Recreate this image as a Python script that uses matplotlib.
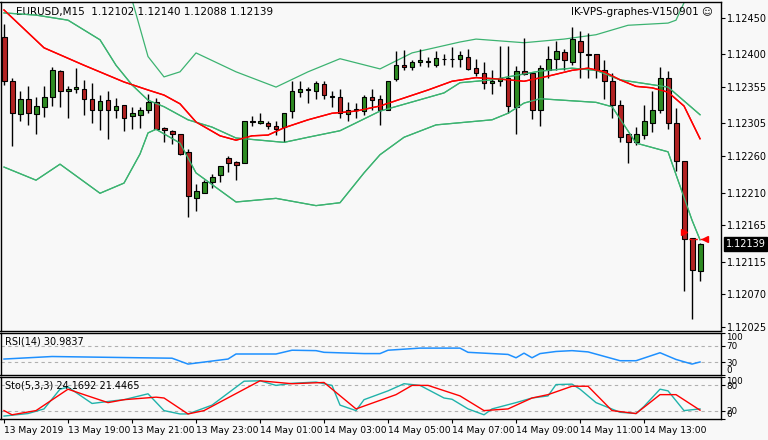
import numpy as np
import matplotlib
matplotlib.use("Agg")
import matplotlib.pyplot as plt

# ---- OHLC data (EURUSD M15, 88 candles from 13 May 17:00) ----
opens  = [1.12424,1.12363,1.12318,1.12338,1.12318,1.12327,1.12341,1.12377,1.12349,1.12352,
          1.12353,1.12338,1.12323,1.12337,1.12323,1.12330,1.12315,1.12316,1.12323,1.12334,
          1.12299,1.12294,1.12290,1.12266,1.12203,1.12210,1.12224,1.12234,1.12257,1.12252,
          1.12250,1.12309,1.12306,1.12305,1.12301,1.12300,1.12322,1.12348,1.12351,1.12349,
          1.12359,1.12342,1.12342,1.12318,1.12323,1.12322,1.12342,1.12338,1.12323,1.12366,
          1.12386,1.12382,1.12389,1.12389,1.12386,1.12393,1.12393,1.12393,1.12397,1.12381,
          1.12375,1.12360,1.12363,1.12367,1.12327,1.12377,1.12374,1.12323,1.12378,1.12393,
          1.12403,1.12390,1.12418,1.12401,1.12400,1.12378,1.12363,1.12330,1.12290,1.12279,
          1.12289,1.12305,1.12323,1.12368,1.12305,1.12254,1.12148,1.12102]
highs  = [1.12442,1.12368,1.12350,1.12356,1.12341,1.12356,1.12382,1.12379,1.12356,1.12381,
          1.12365,1.12361,1.12344,1.12350,1.12340,1.12330,1.12327,1.12327,1.12346,1.12340,
          1.12300,1.12296,1.12290,1.12270,1.12222,1.12227,1.12235,1.12246,1.12260,1.12254,
          1.12309,1.12315,1.12319,1.12309,1.12309,1.12319,1.12363,1.12364,1.12355,1.12363,
          1.12363,1.12349,1.12353,1.12334,1.12333,1.12344,1.12353,1.12344,1.12364,1.12404,
          1.12406,1.12392,1.12407,1.12396,1.12404,1.12400,1.12410,1.12404,1.12408,1.12393,
          1.12389,1.12378,1.12411,1.12412,1.12384,1.12422,1.12374,1.12385,1.12411,1.12419,
          1.12407,1.12437,1.12432,1.12430,1.12400,1.12392,1.12374,1.12337,1.12290,1.12300,
          1.12330,1.12349,1.12382,1.12377,1.12326,1.12254,1.12148,1.12140]
lows   = [1.12358,1.12274,1.12309,1.12303,1.12290,1.12314,1.12329,1.12327,1.12312,1.12347,
          1.12316,1.12305,1.12296,1.12284,1.12312,1.12294,1.12298,1.12299,1.12319,1.12298,
          1.12279,1.12277,1.12261,1.12177,1.12184,1.12210,1.12216,1.12224,1.12238,1.12227,
          1.12250,1.12301,1.12304,1.12298,1.12289,1.12280,1.12313,1.12342,1.12333,1.12338,
          1.12338,1.12327,1.12312,1.12309,1.12312,1.12316,1.12324,1.12303,1.12323,1.12364,
          1.12378,1.12378,1.12384,1.12382,1.12382,1.12385,1.12382,1.12382,1.12378,1.12370,
          1.12352,1.12345,1.12356,1.12319,1.12290,1.12371,1.12311,1.12302,1.12367,1.12378,
          1.12378,1.12386,1.12367,1.12367,1.12367,1.12338,1.12312,1.12279,1.12250,1.12275,
          1.12283,1.12293,1.12320,1.12298,1.12239,1.12075,1.12036,1.12088]
closes = [1.12364,1.12320,1.12338,1.12319,1.12329,1.12341,1.12378,1.12349,1.12352,1.12355,
          1.12338,1.12323,1.12336,1.12323,1.12329,1.12312,1.12319,1.12323,1.12334,1.12298,
          1.12296,1.12290,1.12263,1.12205,1.12212,1.12224,1.12232,1.12246,1.12250,1.12248,
          1.12308,1.12307,1.12308,1.12301,1.12298,1.12319,1.12349,1.12352,1.12352,1.12360,
          1.12344,1.12342,1.12319,1.12323,1.12323,1.12342,1.12337,1.12323,1.12364,1.12385,
          1.12382,1.12390,1.12392,1.12389,1.12395,1.12393,1.12393,1.12399,1.12380,1.12374,
          1.12360,1.12364,1.12367,1.12329,1.12377,1.12373,1.12324,1.12381,1.12393,1.12404,
          1.12392,1.12421,1.12403,1.12399,1.12378,1.12363,1.12331,1.12287,1.12280,1.12290,
          1.12308,1.12323,1.12368,1.12305,1.12254,1.12146,1.12103,1.12139]

# ---- indicator lines (candle index, value) ----
ma_idx = [0,5,10,15,18,20,22,24,27,29,31,33,35,38,41,44,47,50,53,56,59,62,65,68,71,73,75,77,79,81,83,85,87]
ma_val = [1.12461,1.12409,1.12385,1.12362,1.12351,1.12344,1.12332,1.12307,1.12288,1.12282,1.12288,
          1.12289,1.12299,1.12310,1.12319,1.12322,1.12329,1.12340,1.12351,1.12363,1.12368,1.12366,
          1.12363,1.12370,1.12378,1.12381,1.12376,1.12365,1.12356,1.12354,1.12348,1.12329,1.12284]
up_idx = [0,13,16,18,20,22,24,29,34,38,42,47,51,57,59,65,70,74,78,83,84,85,87]
up_val = [1.12600,1.12550,1.12475,1.12397,1.12369,1.12376,1.12402,1.12376,1.12355,1.12376,1.12394,
          1.12380,1.12402,1.12417,1.12421,1.12416,1.12421,1.12427,1.12440,1.12443,1.12447,1.12471,1.12520]
mid_idx = [0,4,8,12,14,16,18,20,23,26,29,32,35,38,42,47,55,57,61,67,71,74,77,83,87]
mid_val = [1.12457,1.12454,1.12447,1.12420,1.12385,1.12358,1.12337,1.12328,1.12310,1.12300,1.12285,
           1.12282,1.12279,1.12286,1.12295,1.12322,1.12347,1.12361,1.12365,1.12377,1.12381,1.12378,
           1.12365,1.12355,1.12317]
lo_idx = [0,4,7,12,15,17,18,19,22,24,29,34,39,42,45,47,50,54,61,63,65,67,74,76,79,83,86,87]
lo_val = [1.12245,1.12227,1.12249,1.12209,1.12223,1.12263,1.12292,1.12297,1.12278,1.12237,1.12197,
          1.12202,1.12192,1.12196,1.12237,1.12262,1.12286,1.12303,1.12310,1.12319,1.12333,1.12339,
          1.12334,1.12328,1.12278,1.12266,1.12172,1.12145]

rsi_idx = [0,6,17,21,23,28,29,34,36,39,40,45,47,48,52,57,58,63,64,65,66,67,69,71,73,77,79,82,84,86,87]
rsi_val = [38,44,41,40,26,38,50,50,59,58,54,51,51,59,64,64,54,49,41,52,41,51,56,58,55,34,34,53,37,26,31]

stk_idx = [0,3,5,7,8,9,11,14,15,18,20,22,23,26,30,32,34,36,39,41,42,44,45,48,50,52,55,56,58,60,61,
           64,66,68,69,71,72,74,77,79,80,82,83,85,87]
stk_val = [7,13,24,71,76,63,37,44,46,60,20,12,12,33,90,91,80,85,88,80,33,20,46,67,84,80,50,47,24,10,
           24,39,50,55,82,83,71,39,16,13,30,71,67,20,24]
sig_idx = [0,1,4,8,10,13,15,19,20,23,25,32,36,40,44,49,51,53,57,60,63,66,68,71,73,76,79,82,84,87]
sig_val = [20,10,20,71,58,39,46,52,50,12,20,91,84,87,24,58,80,80,55,20,24,50,58,78,78,20,13,58,58,21]

tick_labels = ["13 May 2019","13 May 19:00","13 May 21:00","13 May 23:00","14 May 01:00",
               "14 May 03:00","14 May 05:00","14 May 07:00","14 May 09:00","14 May 11:00","14 May 13:00"]
price_ticks = [1.12450,1.12400,1.12355,1.12305,1.12260,1.12210,1.12165,1.12115,1.12070,1.12025]

W, H = 768, 440
BG = "#f8f8f8"
GREEN = "#2e8b22"
RED = "#b22222"
BAND = "#3cb371"
plt.rcParams['font.family'] = ['DejaVu Sans']
fig = plt.figure(figsize=(W/100, H/100), dpi=100, facecolor=BG)

def mk(y0, y1):
    ax = fig.add_axes([0.5/W, (H-y1)/H, 720/W, (y1-y0)/H], facecolor=BG)
    for s in ax.spines.values():
        s.set_color("black"); s.set_linewidth(1)
    ax.set_xlim(-0.44, 89.56)
    ax.yaxis.tick_right()
    ax.tick_params(axis='y', labelsize=7, length=3, pad=2, colors='black')
    ax.tick_params(axis='x', bottom=False, labelbottom=False)
    return ax

ax = mk(2, 331)
ax.set_ylim(1.120196, 1.12472)
n = len(opens)
x = np.arange(n)
o = np.array(opens); c = np.array(closes); h = np.array(highs); l = np.array(lows)
ax.plot(ma_idx, ma_val, color="red", lw=1, zorder=1)
ax.plot(up_idx, up_val, color=BAND, lw=0.9, zorder=1)
ax.plot(mid_idx, mid_val, color=BAND, lw=0.9, zorder=1)
ax.plot(lo_idx, lo_val, color=BAND, lw=0.9, zorder=1)
ax.vlines(x, l, h, color="black", lw=1, zorder=2)
up = c >= o
cols = np.where(up, GREEN, RED)
bot = np.minimum(o, c); hgt = np.maximum(np.abs(c - o), 0.000012)
ax.bar(x, hgt, 0.62, bot, color=cols, edgecolor="black", linewidth=0.8, zorder=3)
ax.plot(lo_idx, lo_val, color=BAND, lw=0.9, zorder=4)
ax.plot(mid_idx, mid_val, color=BAND, lw=0.9, zorder=4)
ax.plot(ma_idx, ma_val, color="red", lw=1, zorder=4)
ax.set_yticks(price_ticks)
ax.set_yticklabels([f"{p:.5f}" for p in price_ticks])
# trade arrows
ax.plot([85], [1.12156], marker=">", color="red", ms=5, zorder=5)
ax.plot([85.6, 87.4], [1.12146, 1.12146], color="red", lw=1, ls=(0, (2, 2)), zorder=5)
ax.plot([87.6], [1.12146], marker="<", color="red", ms=5, zorder=5)
ax.text(0.022, 0.985, "EURUSD,M15  1.12102 1.12140 1.12088 1.12139", transform=ax.transAxes,
        fontsize=7.5, va="top", ha="left")
ax.text(0.99, 0.985, "IK-VPS-graphes-V150901 \u263a", transform=ax.transAxes,
        fontsize=7.5, va="top", ha="right")
ax.text(1.007, (closes[-1]-1.120196)/(1.12472-1.120196), f"{closes[-1]:.5f}", transform=ax.transAxes,
        fontsize=7, va="center", ha="left", color="white",
        bbox=dict(boxstyle="square,pad=0.2", fc="black", ec="black"), clip_on=False)

def set_sub_ticks(a, vals):
    a.set_yticks(vals); a.set_yticklabels([str(v) for v in vals])
    a.tick_params(axis='y', labelsize=6.3, pad=1)
    labs = a.get_yticklabels()
    labs[0].set_va("top")
    labs[-1].set_va("bottom")

# RSI
ar = mk(333, 375)
ar.set_ylim(0, 100)
ar.axhline(70, color="#b0b0b0", lw=0.8, ls=(0, (3, 3)))
ar.axhline(30, color="#b0b0b0", lw=0.8, ls=(0, (3, 3)))
ar.plot(rsi_idx, rsi_val, color="#1e90ff", lw=1.1)
set_sub_ticks(ar, [100, 70, 30, 0])
ar.text(0.006, 0.92, "RSI(14) 30.9837", transform=ar.transAxes, fontsize=7, va="top")

# Stochastic
ast = mk(377, 419)
ast.set_ylim(0, 100)
ast.axhline(80, color="#b0b0b0", lw=0.8, ls=(0, (3, 3)))
ast.axhline(20, color="#b0b0b0", lw=0.8, ls=(0, (3, 3)))
ast.plot(stk_idx, stk_val, color="#20b2aa", lw=1)
ast.plot(sig_idx, sig_val, color="red", lw=1)
set_sub_ticks(ast, [100, 80, 20, 0])
ast.text(0.006, 0.92, "Sto(5,3,3) 24.1692 21.4465", transform=ast.transAxes, fontsize=7, va="top")
tpos = np.arange(0, 8 * len(tick_labels), 8)
ast.set_xticks(tpos)
ast.set_xticklabels(tick_labels, ha="left")
ast.tick_params(axis='x', bottom=True, labelbottom=True, length=3, labelsize=6.6, pad=2, direction="out")

fig.savefig("out.png", dpi=100, facecolor=BG)
